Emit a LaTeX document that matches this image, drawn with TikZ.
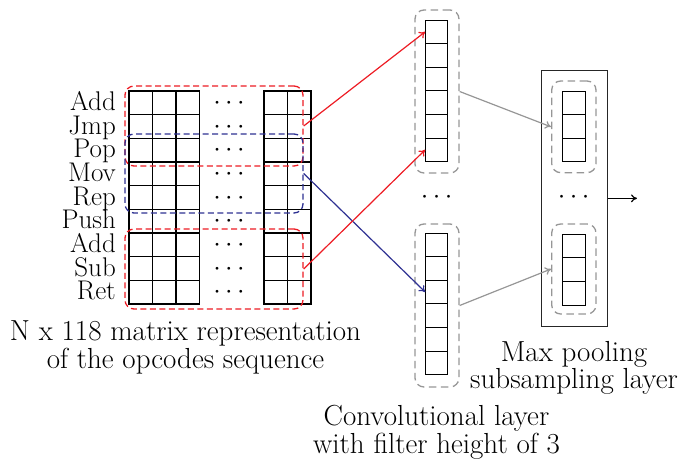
\RequirePackage{fix-cm}
\documentclass[tikz,border=0pt]{standalone}
\usepackage{fontspec}
\usetikzlibrary{arrows.meta}
\definecolor{myred}{RGB}{237,28,36}
\definecolor{myblue}{RGB}{46,49,146}
\definecolor{mygray}{RGB}{150,150,150}
\begin{document}
\begin{tikzpicture}[x=1pt,y=-1pt,
  every node/.style={font=\fontsize{27}{27}\selectfont},
  capfont/.style={font=\fontsize{29}{#1}\selectfont},
  cell/.style={draw=black, line width=1.1pt, inner sep=0pt, minimum width=23.5pt, minimum height=23.67pt},
  ccell/.style={draw=black, line width=1pt, inner sep=0pt, minimum width=22pt, minimum height=23.6pt},
  pcell/.style={draw=black, line width=1pt, inner sep=0pt, minimum width=22.7pt, minimum height=23.6pt},
  redbox/.style={draw=myred, line width=1.3pt, dash pattern=on 6pt off 3.5pt, rounded corners=9pt, inner sep=0pt, minimum width=178pt, minimum height=80pt},
  bluebox/.style={draw=myblue, line width=1.3pt, dash pattern=on 6pt off 3.5pt, rounded corners=9pt, inner sep=0pt, minimum width=178pt, minimum height=79pt},
  graybox/.style={draw=mygray, line width=1.3pt, dash pattern=on 7.5pt off 4.5pt, rounded corners=9pt, inner sep=0pt},
  lbl/.style={anchor=base east, inner sep=0pt},
  dotsnode/.style={inner sep=0pt, anchor=base},
  arr/.style={-{To[length=6pt,width=8pt]}, line width=1.2pt}
]
\useasboundingbox (0,0) rectangle (679,461);
% matrix
\foreach \i in {1,...,9}{
  \pgfmathsetmacro{\yc}{91+23.67*(\i-0.5)}
  \foreach \j/\xc in {1/140.75,2/164.25,3/187.75,4/275.75,5/299.25}{
    \node[cell] (m-\i-\j) at (\xc,\yc) {};
  }
  \node[dotsnode] (d-\i) at (229,\yc+6.7) {$\cdots$};
}
% labels
\foreach \i/\t in {1/Add,2/Jmp,3/Pop,4/Mov,5/Rep,6/Push,7/Add,8/Sub,9/Ret}{
  \pgfmathsetmacro{\yb}{110.5+23.67*(\i-1)}
  \node[lbl] (l-\i) at (116,\yb) {\t};
}
% filter boxes
\node[redbox] (r1) at (214,126) {};
\node[bluebox] (b1) at (214,173.5) {};
\node[redbox] (r2) at (214,269) {};
% conv layer
\foreach \k in {1,...,6}{
  \node[ccell] (c1-\k) at (436.7,{20+23.6*(\k-0.5)}) {};
  \node[ccell] (c2-\k) at (436.7,{233+23.6*(\k-0.5)}) {};
}
\node[graybox, minimum width=44pt, minimum height=163pt] (cb1) at (437,91.5) {};
\node[graybox, minimum width=44pt, minimum height=163pt] (cb2) at (437,305.5) {};
\node[dotsnode] (cd) at (436.7,203.7) {$\cdots$};
% pooling layer
\node[draw=black!85, line width=1pt, inner sep=0pt, minimum width=66.7pt, minimum height=256.7pt] (pool) at (574.35,198.35) {};
\foreach \k in {1,...,3}{
  \node[pcell] (p1-\k) at (573.7,{91+23.6*(\k-0.5)}) {};
  \node[pcell] (p2-\k) at (573.7,{234.3+23.6*(\k-0.5)}) {};
}
\node[graybox, minimum width=44.3pt, minimum height=91.7pt] (pb1) at (573.85,126.85) {};
\node[graybox, minimum width=44.3pt, minimum height=90pt] (pb2) at (573.85,269) {};
\node[dotsnode] (pd) at (573.7,203.7) {$\cdots$};
\coordinate (out) at (637,198.35);
% connectors
\draw[arr, myred] (r1.east) -- (c1-1.west);
\draw[arr, myblue] (b1.east) -- (c2-3.west);
\draw[arr, myred] (r2.east) -- (c1-6.west);
\draw[arr, mygray] (cb1.east) -- (pb1.west);
\draw[arr, mygray] (cb2.east) -- (pb2.west);
\draw[arr, black] (pool.east) -- (out);
% captions (anchor base = baseline of the last line)
\node[anchor=base, align=center, inner sep=0pt, capfont=25] (cap1) at (185.5,368) {N x 118 matrix representation\\of the opcodes sequence};
\node[anchor=base, align=center, inner sep=0pt, capfont=28] (cap2) at (436.5,453) {Convolutional layer\\with filter height of 3};
\node[anchor=base, align=center, inner sep=0pt, capfont=25] (cap3) at (574,388.5) {Max pooling\\subsampling layer};
\end{tikzpicture}
\end{document}
